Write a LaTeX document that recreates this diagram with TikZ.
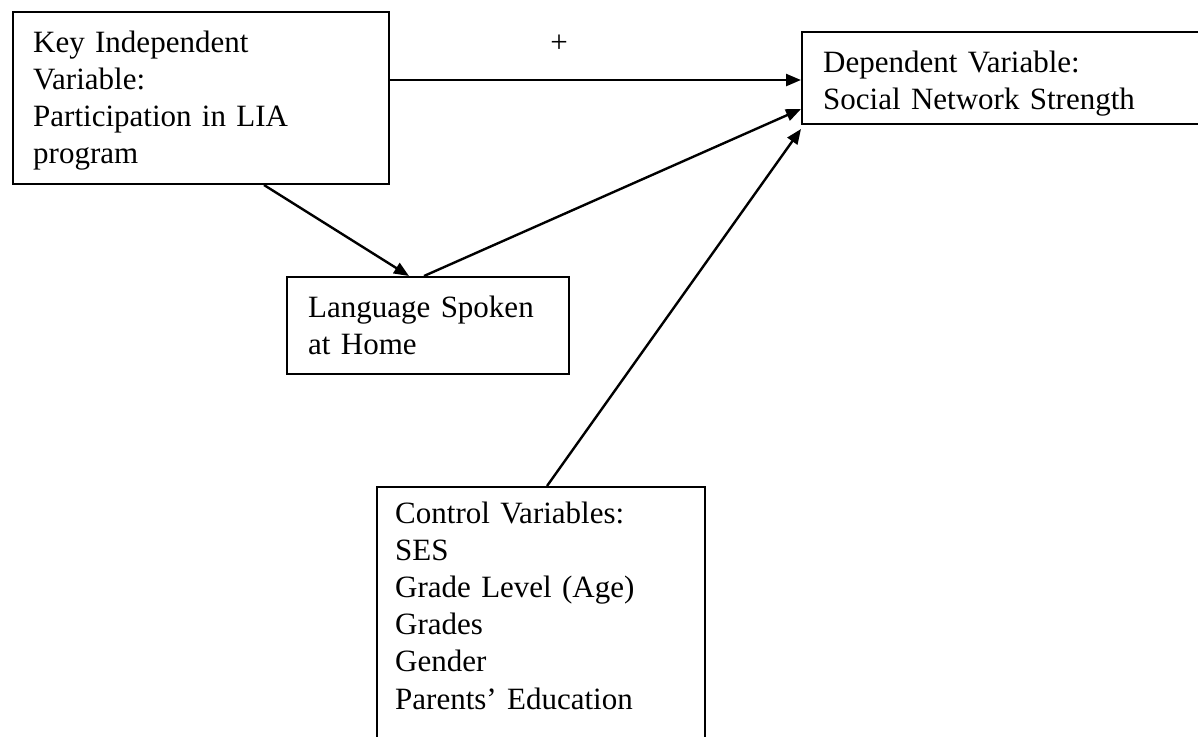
\documentclass[tikz,border=0pt]{standalone}
\usepackage{fontspec}
\setmainfont{Liberation Serif}
\usetikzlibrary{arrows.meta}
\begin{document}
\begin{tikzpicture}[x=1pt,y=-1pt,
  boxnode/.style={draw=black, line width=2pt, inner sep=0pt, rectangle},
  txt/.style={inner sep=0pt, anchor=base west, text width=420pt, align=left,
    font=\fontsize{31}{37.2}\selectfont},
  conn/.style={line width=2.4pt, -{Triangle[length=15pt,width=12pt]}}]
\useasboundingbox (0,0) rectangle (1198,736);
\fill[white] (0,0) rectangle (1198,736);
% boxes
\node[boxnode, minimum width=376pt, minimum height=172pt] (a) at (201,98) {};
\node[boxnode, minimum width=420pt, minimum height=92pt] (d) at (1012,78) {};
\node[boxnode, minimum width=282pt, minimum height=97pt] (l) at (428,325.5) {};
\node[boxnode, minimum width=328pt, minimum height=270pt] (c) at (541,622) {};
% texts
\node[txt] (at) at (33,52) {Key Independent\\Variable:\\Participation in LIA\\program};
\node[txt] (dt) at (823,72) {Dependent Variable:\\Social Network Strength};
\node[txt] (lt) at (308,317) {Language Spoken\\at Home};
\node[txt] (ct) at (395,523) {Control Variables:\\SES\\Grade Level (Age)\\Grades\\Gender\\Parents’ Education};
\node[inner sep=0pt, font=\fontsize{31}{37}\selectfont] (plus) at (559,44) {+};
% connectors
\draw[conn] ([yshift=-69pt]a.north east) -- ([yshift=-49pt]d.north west);
\draw[conn] ([xshift=252pt]a.south west) -- ([xshift=123pt]l.north west);
\draw[conn] ([xshift=138pt]l.north west) -- ([yshift=-78pt]d.north west);
\draw[conn] ([xshift=171pt]c.north west) -- ([yshift=-98pt]d.north west);
\end{tikzpicture}
\end{document}
